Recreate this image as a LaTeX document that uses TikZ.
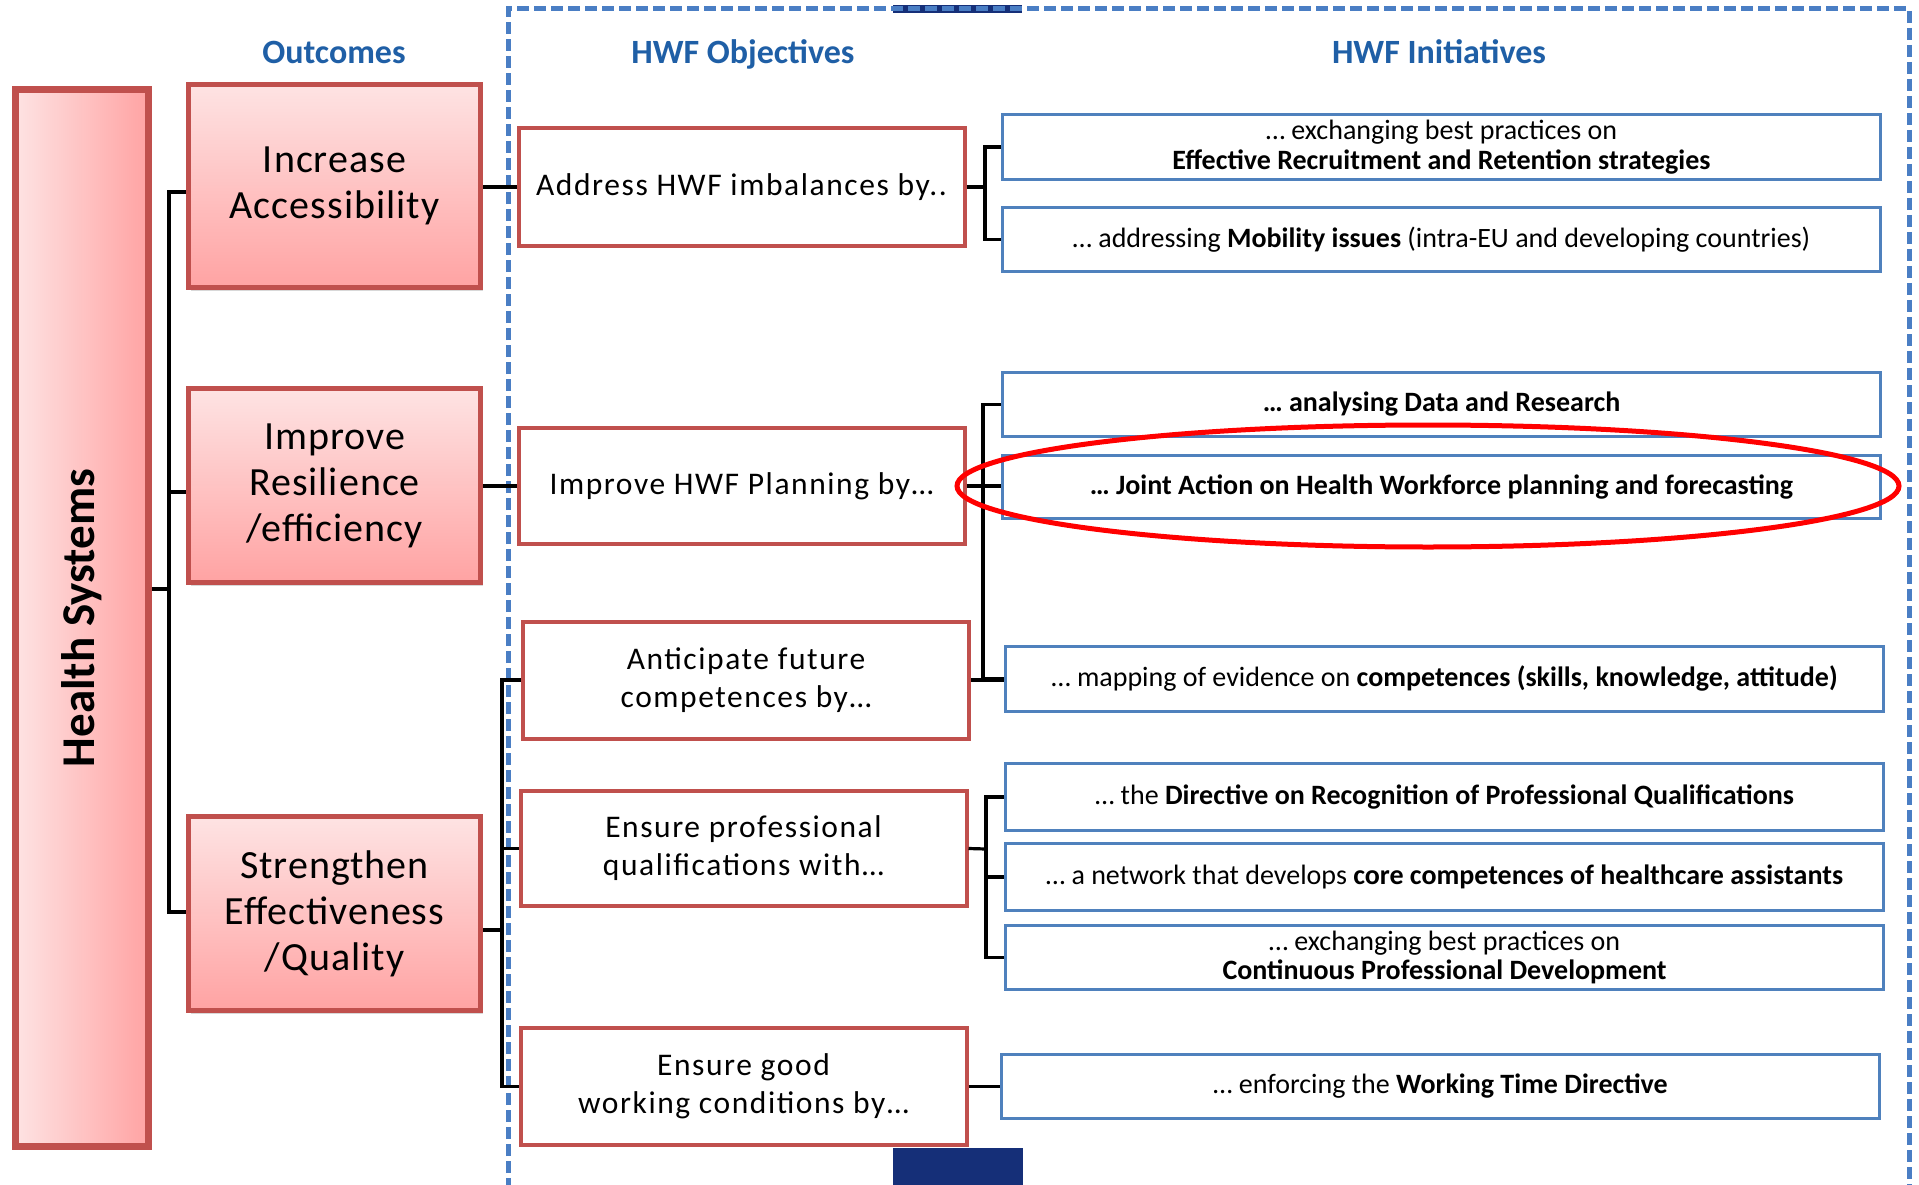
\documentclass[tikz,border=0pt]{standalone}
\usepackage{fontspec}
\setmainfont{Carlito}
\newfontfamily\outfont[LetterSpace=2.5]{Carlito}
\newfontfamily\objfont[LetterSpace=5]{Carlito}
\usetikzlibrary{shadows,calc}
\definecolor{redb}{HTML}{C0504D}
\definecolor{blueb}{HTML}{4F81BD}
\definecolor{dashb}{HTML}{4A7EC4}
\definecolor{titleb}{HTML}{1F5FA6}
\definecolor{navyb}{HTML}{152F78}
\definecolor{pinkT}{HTML}{FEE3E3}
\definecolor{pinkB}{HTML}{FFA3A3}
\definecolor{ovalred}{HTML}{FF0000}
\tikzset{
  outbox/.style={draw=redb, line width=5pt, top color=pinkT, bottom color=pinkB,
    inner sep=0pt, align=center, minimum width=292pt,
    font=\outfont\fontsize{40}{46}\selectfont,
    drop shadow={shadow xshift=2pt, shadow yshift=-3pt, opacity=0.3}},
  objbox/.style={draw=redb, line width=4pt, fill=white, inner sep=0pt, align=center,
    minimum width=446pt, font=\objfont\fontsize{31.5}{38}\selectfont},
  inibox/.style={draw=blueb, line width=3.5pt, fill=white, inner sep=0pt, align=center,
    minimum width=878pt, font=\fontsize{28}{29.5}\selectfont},
  ttl/.style={text=titleb, anchor=base, font=\bfseries\fontsize{34}{40}\selectfont},
  conn/.style={line width=3.2pt, black},
}
\begin{document}
\begin{tikzpicture}[x=1pt,y=-1pt]
\useasboundingbox (0,0) rectangle (1919,1185);
\fill[white] (0,0) rectangle (1919,1185);

% slide artefacts and dashed frame
\fill[navyb] (893,5) rectangle (1022,13);
\fill[navyb] (893,1148) rectangle (1023,1190);
\draw[dashb, line width=5pt, dash pattern=on 12pt off 5pt] (508,1190) -- (508,9) -- (1909,9) -- (1909,1190);

% titles
\node[ttl] (t1) at (334,64) {Outcomes};
\node[ttl] (t2) at (743,64) {HWF Objectives};
\node[ttl] (t3) at (1439,64) {HWF Initiatives};

% health systems
\node[draw=redb, line width=7pt, left color=pinkT, right color=pinkB,
      minimum width=133pt, minimum height=1057pt, inner sep=0pt,
      drop shadow={shadow xshift=2pt, shadow yshift=-3pt, opacity=0.3}] (hs) at (82,618) {};
\node[rotate=90, font=\bfseries\fontsize{47}{52}\selectfont] (hslabel) at (82,618) {Health Systems};

% outcomes
\node[outbox, minimum height=203pt] (o1) at (334.5,186) {Increase\\Accessibility};
\node[outbox, minimum height=194pt] (o2) at (334.5,485.5) {Improve\\Resilience\\/efficiency};
\node[outbox, minimum height=194pt] (o3) at (334.5,913.5) {Strengthen\\Effectiveness\\/Quality};

% objectives
\node[objbox, minimum height=118pt] (a1) at (741.5,187) {Address HWF imbalances by..};
\node[objbox, minimum height=116pt] (a2) at (741.5,486) {Improve HWF Planning by…};
\node[objbox, minimum height=117pt] (a3) at (746,680) {Anticipate future\\competences by…};
\node[objbox, minimum height=115pt] (a4) at (743.5,848.5) {Ensure professional\\qualifications with…};
\node[objbox, minimum height=117pt] (a5) at (743.5,1086.5) {Ensure good\\working conditions by…};

% initiatives
\node[inibox, minimum height=65pt] (i1) at (1441.5,147) {… exchanging best practices on\\\textbf{Effective Recruitment and Retention strategies}};
\node[inibox, minimum height=64pt] (i2) at (1441.5,239.5) {… addressing \textbf{Mobility issues} (intra-EU and developing countries)};
\node[inibox, minimum height=64pt] (i3) at (1441.5,404.5) {\textbf{… analysing Data and Research}};
\node[inibox, minimum height=63pt] (i4) at (1441.5,487) {\textbf{… Joint Action on Health Workforce planning and forecasting}};
\node[inibox, minimum height=65pt] (i5) at (1444.5,679) {… mapping of evidence on \textbf{competences (skills, knowledge, attitude)}};
\node[inibox, minimum height=67pt] (i6) at (1444.5,797) {… the \textbf{Directive on Recognition of Professional Qualifications}};
\node[inibox, minimum height=67pt] (i7) at (1444.5,877) {… a network that develops \textbf{core competences of healthcare assistants}};
\node[inibox, minimum height=64pt] (i8) at (1444.5,957.5) {… exchanging best practices on\\\textbf{Continuous Professional Development}};
\node[inibox, minimum height=64pt] (i9) at (1440.5,1086.5) {… enforcing the \textbf{Working Time Directive}};

% connectors: health systems -> outcomes
\coordinate (busT) at (169,192);
\coordinate (busM) at (169,492);
\coordinate (busB) at (169,912);
\coordinate (busH) at (169,589);
\draw[conn] (hs.east |- busH) -- (busH);
\draw[conn] (o1.west |- busT) -| (busB) -- (o3.west |- busB);
\draw[conn] (busM) -- (o2.west |- busM);

% outcomes -> objectives
\draw[conn] (o1.east |- a1.west) -- (a1.west);
\draw[conn] (o2.east |- a2.west) -- (a2.west);
\coordinate (b2B) at (502,1086.5);
\coordinate (b2M) at (502,930);
\draw[conn] (a3.west) -| (b2B) -- (a5.west);
\draw[conn] (a4.west) -- (a4.west -| b2B);
\draw[conn] (o3.east |- b2M) -- (b2M);

% objectives -> initiatives
\coordinate (br1) at (985,187);
\draw[conn] (a1.east) -- (br1);
\draw[conn] (i1.west) -| (br1) |- (i2.west);
\coordinate (br2) at (983,486);
\draw[conn] (i3.west) -| (br2) |- (i5.west);
\draw[conn] (a2.east) -- (i4.west |- a2.east);
\draw[conn] (a3.east) -- (i5.west |- a3.east);
\coordinate (br4) at (986,849);
\draw[conn] (a4.east) -- (br4);
\draw[conn] (i6.west) -| (br4) |- (i8.west);
\draw[conn] (br4 |- i7.west) -- (i7.west);
\draw[conn] (a5.east) -- (i9.west |- a5.east);

% highlight ellipse
\draw[ovalred, line width=5pt] (1428,486) ellipse [x radius=471pt, y radius=61pt];
\end{tikzpicture}
\end{document}
